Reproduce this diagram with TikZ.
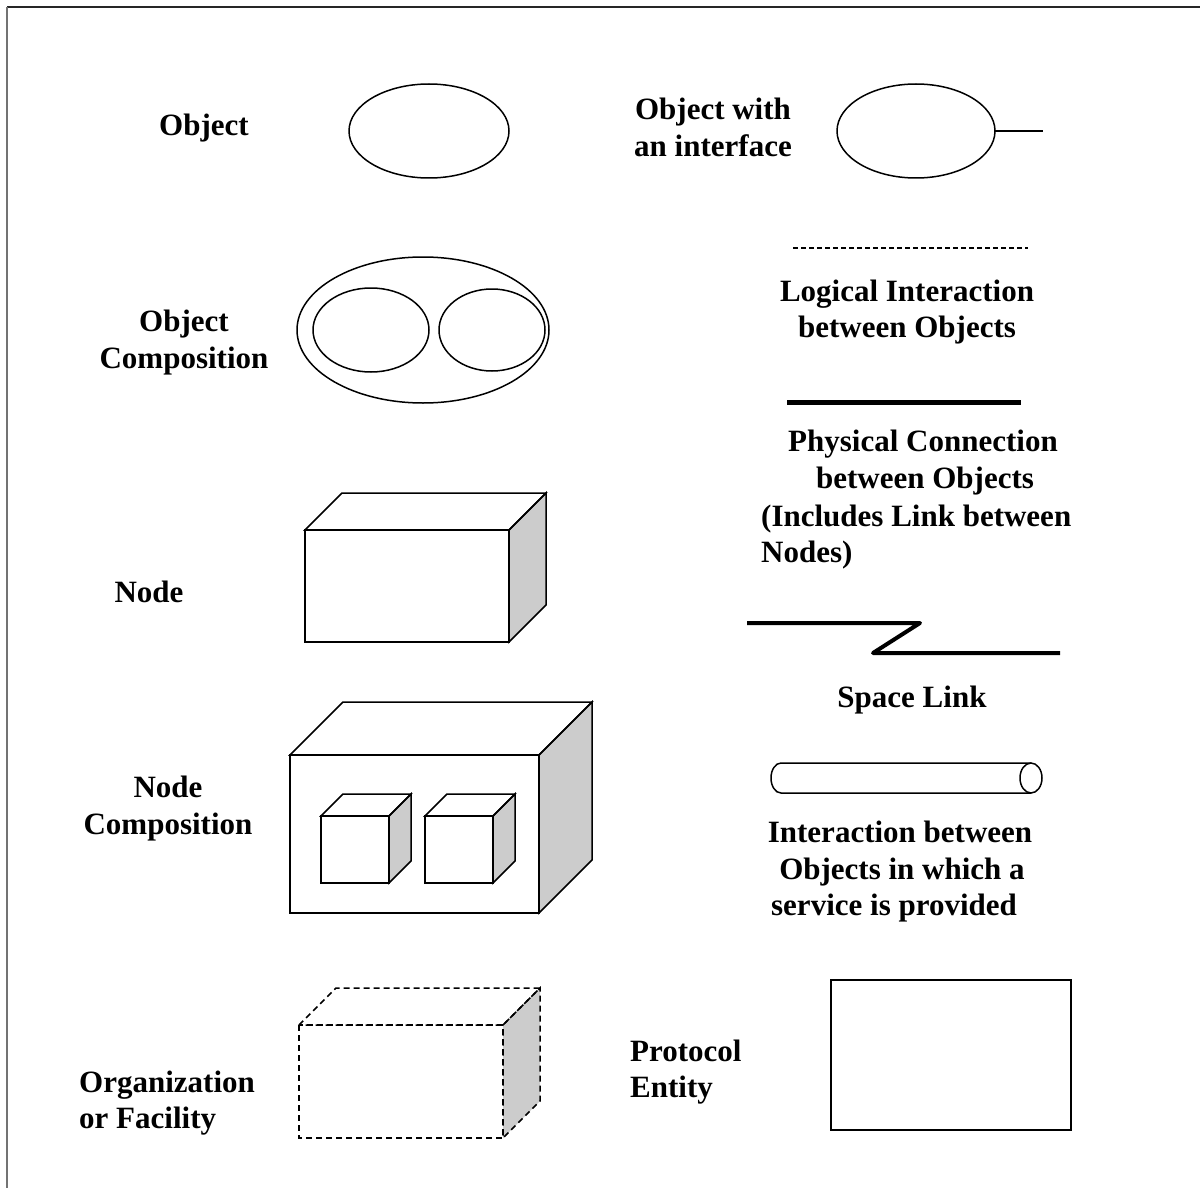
\documentclass[tikz,border=0pt]{standalone}
\usepackage{fontspec}
\setmainfont{Liberation Serif}
\definecolor{shade}{RGB}{204,204,204}
\newcommand\mycube[6][]{%
  \filldraw[shp,fill=shade,#1] (#4,#3) -- (#4+#6,#3-#6) -- (#4+#6,#5-#6) -- (#4,#5) -- cycle;
  \draw[shp,#1] (#2,#3) -- (#2+#6,#3-#6) -- (#4+#6,#3-#6) -- (#4,#3) -- cycle;
  \draw[shp,#1] (#2,#3) rectangle (#4,#5);}
\begin{document}
\begin{tikzpicture}[x=1pt,y=-1pt,
  lbl/.style={font=\fontsize{31}{36}\selectfont\bfseries, inner sep=0pt, anchor=base},
  lbll/.style={lbl, anchor=base west},
  shp/.style={draw=black, line width=1.5pt, line join=miter},
  dsh/.style={dash pattern=on 6pt off 4pt}]
\useasboundingbox (0,0) rectangle (1200,1188);
% frame
\draw[line width=2pt, black!85] (7,7) -- (1200,7);
\draw[line width=2pt, black!55] (7,7) -- (7,1188);

% Object
\node[lbl] (lobj) at (204,136) {Object};
\draw[shp] (429,131) ellipse [x radius=80, y radius=47];

% Object with an interface
\node[lbl] (lint1) at (713,120) {Object with};
\node[lbl] (lint2) at (713,157) {an interface};
\draw[shp] (916,131) ellipse [x radius=79, y radius=47];
\coordinate (ifA) at (995,131);
\coordinate (ifB) at (1043,131);
\draw[shp] (ifA) -- (ifB);

% Object composition
\node[lbl] (lcomp1) at (184,331) {Object};
\node[lbl] (lcomp2) at (184,368) {Composition};
\draw[shp] (423,330) ellipse [x radius=126, y radius=73];
\draw[shp] (371,330) ellipse [x radius=58, y radius=42];
\draw[shp] (492,330) ellipse [x radius=53, y radius=41];

% Logical interaction
\coordinate (lgA) at (793,248);
\coordinate (lgB) at (1028,248);
\draw[line width=1.3pt, dash pattern=on 5pt off 3pt] (lgA) -- (lgB);
\node[lbl] (llog1) at (907,301) {Logical Interaction};
\node[lbl] (llog2) at (907,337) {between Objects};

% Physical connection
\coordinate (phA) at (787,402);
\coordinate (phB) at (1021,402);
\draw[line width=5pt] (phA) -- (phB);
\node[lbl] (lphy1) at (923,451) {Physical Connection};
\node[lbl] (lphy2) at (925,488) {between Objects};
\node[lbll] (lphy3) at (761,526) {(Includes Link between};
\node[lbll] (lphy4) at (761,562) {Nodes)};

% Node
\node[lbl] (lnode) at (149,602) {Node};
\mycube{305}{530}{509}{642}{37}

% Space link
\coordinate (slA) at (747,623);
\coordinate (slB) at (920,623);
\coordinate (slC) at (873,653);
\coordinate (slD) at (1060,653);
\draw[line width=4pt, line join=round] (slA) -- (slB) -- (slC) -- (slD);
\node[lbl] (lspace) at (912,707) {Space Link};

% Node composition
\node[lbl] (lncomp1) at (168,797) {Node};
\node[lbl] (lncomp2) at (168,834) {Composition};
\mycube{290}{755}{539}{913}{53}
\mycube{321}{816}{389}{883}{22}
\mycube{425}{816}{493}{883}{22}

% Service pipe
\draw[shp] (1031,763) -- (781,763) arc[start angle=270, end angle=90, x radius=10, y radius=15] -- (1031,793);
\draw[shp] (1031,778) ellipse [x radius=11, y radius=15];
\node[lbl] (lsrv1) at (900,842) {Interaction between};
\node[lbl] (lsrv2) at (902,879) {Objects in which a};
\node[lbl] (lsrv3) at (894,915) {service is provided};

% Organization or facility
\node[lbll] (lorg1) at (79,1092) {Organization};
\node[lbll] (lorg2) at (79,1128) {or Facility};
\mycube[dsh]{299}{1025}{503}{1138}{37}

% Protocol entity
\node[lbll] (lprot1) at (630,1061) {Protocol};
\node[lbll] (lprot2) at (630,1097) {Entity};
\draw[shp] (831,980) rectangle (1071,1130);
\end{tikzpicture}
\end{document}
